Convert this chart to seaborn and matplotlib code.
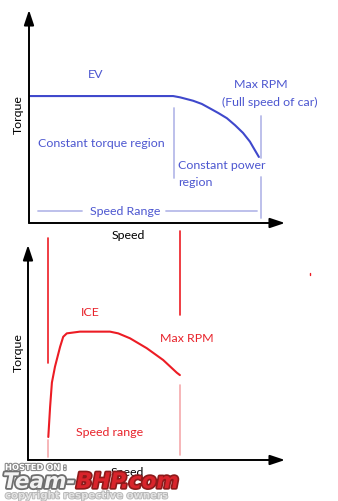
import matplotlib
matplotlib.use("Agg")
import matplotlib.pyplot as plt
import matplotlib.patheffects as pe
import seaborn as sns

sns.set_theme(style="white")
plt.rcParams["font.family"] = ["Lato", "DejaVu Sans"]

# EV motor: constant torque, then constant power fall-off up to max RPM
ev_speed = [0, 56.3, 59.0, 64.1, 67.5, 70.7, 74.0, 77.3, 80.5, 83.6, 86.3, 87.5, 89.8]
ev_torque = [59.6, 59.6, 59.0, 57.4, 55.9, 53.8, 51.6, 49.2, 45.9, 42.3, 38.2, 35.7, 31.0]

# Combustion engine torque curve
ice_speed = [7.9, 8.6, 9.3, 10.5, 12.5, 13.7, 15.1, 20.2, 31.9, 35.1, 39.7, 46.2, 52.6, 57.9, 59.1]
ice_torque = [10.7, 24.7, 36.0, 43.4, 52.7, 57.3, 58.9, 59.7, 59.7, 58.9, 56.6, 52.0, 46.5, 40.6, 39.5]

BLUE = "#3f48cc"
BLUE_TXT = "#4c56d0"
LIGHT_BLUE = "#b7bbe9"
RED = "#ec1c24"
RED_TXT = "#e8232b"
PINK = "#f5a9ac"

W, H = 338, 501
fig = plt.figure(figsize=(W / 100, H / 100), dpi=100)


def make_axes(left, top, right, bottom):
    ax = fig.add_axes([left / W, (H - bottom) / H, (right - left) / W, (bottom - top) / H])
    ax.set_xlim(0, 100)
    ax.set_ylim(0, 100)
    for s in ax.spines.values():
        s.set_visible(False)
    ax.set_xticks([])
    ax.set_yticks([])
    ax.patch.set_alpha(0)
    arrow = dict(arrowstyle="-|>,head_length=0.9,head_width=0.3", color="black",
                 lw=1.4, mutation_scale=10, shrinkA=0, shrinkB=0)
    ax.annotate("", xy=(1.0, 0), xytext=(0, 0), xycoords="axes fraction",
                arrowprops=arrow, annotation_clip=False)
    ax.annotate("", xy=(0, 1.0), xytext=(0, 0), xycoords="axes fraction",
                arrowprops=arrow, annotation_clip=False)
    return ax


fs = 8.9

# ---------------- EV panel ----------------
ax1 = make_axes(29, 10, 285, 223)
sns.lineplot(x=ev_speed, y=ev_torque, ax=ax1, color=BLUE, linewidth=1.5, sort=False)
ax1.plot([56.6, 56.6], [54, 21], color=LIGHT_BLUE, lw=1.3)
ax1.plot([90.6, 90.6], [50.2, 30.5], color=LIGHT_BLUE, lw=1.3)
ax1.plot([90.6, 90.6], [21.6, 2.3], color=LIGHT_BLUE, lw=1.3)
ax1.plot([3.5, 20.7], [5.6, 5.6], color=LIGHT_BLUE, lw=1.3)
ax1.plot([53.5, 89.0], [5.6, 5.6], color=LIGHT_BLUE, lw=1.3)

ax1.text(26.2, 69.5, "EV", color=BLUE_TXT, fontsize=fs, ha="center", va="center")
ax1.text(90.6, 64.8, "Max RPM", color=BLUE_TXT, fontsize=fs, ha="center", va="center")
ax1.text(94.1, 56.8, "(Full speed of car)", color=BLUE_TXT, fontsize=fs, ha="center",
         va="center", clip_on=False)
ax1.text(3.5, 37.1, "Constant torque region", color=BLUE_TXT, fontsize=fs, ha="left", va="center")
ax1.text(58.2, 26.8, "Constant power", color=BLUE_TXT, fontsize=fs, ha="left", va="center")
ax1.text(58.2, 19.2, "region", color=BLUE_TXT, fontsize=fs, ha="left", va="center")
ax1.text(37.5, 5.6, "Speed Range", color=BLUE_TXT, fontsize=fs, ha="center", va="center")
ax1.text(-4.3, 50.7, "Torque", color="black", fontsize=fs, ha="center", va="center", rotation=90)
ax1.text(38.7, -6.1, "Speed", color="black", fontsize=fs, ha="center", va="center")

# ---------------- ICE panel ----------------
ax2 = make_axes(28, 245, 285, 460)
sns.lineplot(x=ice_speed, y=ice_torque, ax=ax2, color=RED, linewidth=1.5, sort=False)
ax2.plot([7.8, 7.8], [103.3, 45.1], color=RED, lw=1.2, clip_on=False)
ax2.plot([59.1, 59.1], [106.5, 67.4], color=RED, lw=1.2, clip_on=False)
ax2.plot([109.7, 109.7], [87.0, 86.0], color=RED, lw=1.0, clip_on=False)
ax2.plot([7.8, 7.8], [9.3, 1.4], color=PINK, lw=1.2)
ax2.plot([59.1, 59.1], [34.9, 2.3], color=PINK, lw=1.2)

ax2.text(24.1, 68.4, "ICE", color=RED_TXT, fontsize=fs, ha="center", va="center")
ax2.text(61.9, 56.3, "Max RPM", color=RED_TXT, fontsize=fs, ha="center", va="center")
ax2.text(31.9, 13.0, "Speed range", color=RED_TXT, fontsize=fs, ha="center", va="center")
ax2.text(-3.9, 50.2, "Torque", color="black", fontsize=fs, ha="center", va="center", rotation=90)
ax2.text(38.5, -5.6, "Speed", color="black", fontsize=fs, ha="center", va="center")

# ---------------- host watermark ----------------
fig.text(5 / W, 1 - 467.5 / H, "HOSTED ON :", color="white", fontsize=6.0,
         fontweight="bold", ha="left", va="center", family=["DejaVu Sans"],
         path_effects=[pe.withStroke(linewidth=1.6, foreground="#8a8a8a")])
fig.text(3 / W, 1 - 482 / H, "Team-", color="#f2f2f2", fontsize=15.5, fontweight="bold",
         style="italic", ha="left", va="center", family=["DejaVu Sans"],
         path_effects=[pe.withStroke(linewidth=2.6, foreground="#6e6e6e")])
fig.text(76 / W, 1 - 482 / H, "BHP.com", color="#d9242b", fontsize=15.5, fontweight="bold",
         style="italic", ha="left", va="center", family=["DejaVu Sans"],
         path_effects=[pe.withStroke(linewidth=2.4, foreground="#8c1a1a")])
fig.text(5 / W, 1 - 495.5 / H, "copyright respective owners", color="#e2e2e2", fontsize=7.3,
         fontweight="bold", ha="left", va="center", family=["DejaVu Sans"],
         path_effects=[pe.withStroke(linewidth=1.2, foreground="#b4b4b4")])

fig.savefig("out.png", dpi=100)
